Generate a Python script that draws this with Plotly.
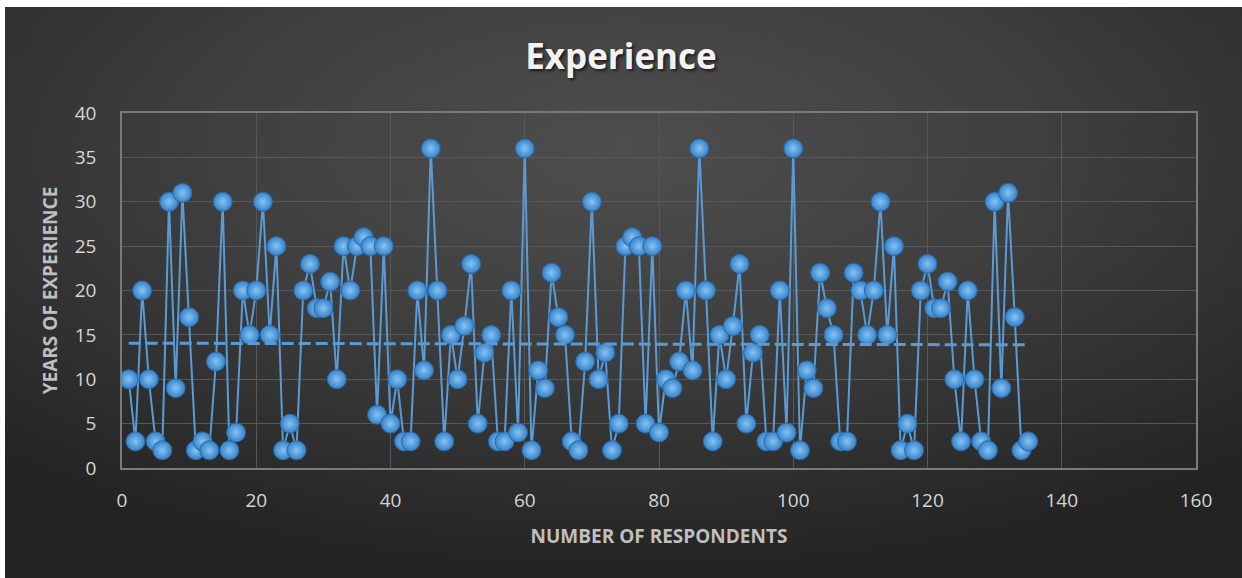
import base64
import numpy as np
import plotly.graph_objects as go

# Years of experience reported by each respondent (respondent 1..135)
experience = [
    10, 3, 20, 10, 3, 2, 30, 9, 31, 17,
    2, 3, 2, 12, 30, 2, 4, 20, 15, 20,
    30, 15, 25, 2, 5, 2, 20, 23, 18, 18,
    21, 10, 25, 20, 25, 26, 25, 6, 25, 5,
    10, 3, 3, 20, 11, 36, 20, 3, 15, 10,
    16, 23, 5, 13, 15, 3, 3, 20, 4, 36,
    2, 11, 9, 22, 17, 15, 3, 2, 12, 30,
    10, 13, 2, 5, 25, 26, 25, 5, 25, 4,
    10, 9, 12, 20, 11, 36, 20, 3, 15, 10,
    16, 23, 5, 13, 15, 3, 3, 20, 4, 36,
    2, 11, 9, 22, 18, 15, 3, 3, 22, 20,
    15, 20, 30, 15, 25, 2, 5, 2, 20, 23,
    18, 18, 21, 10, 3, 20, 10, 3, 2, 30,
    9, 31, 17, 2, 3,
]
respondents = list(range(1, len(experience) + 1))

x_ticks = [0, 20, 40, 60, 80, 100, 120, 140, 160]
y_ticks = [0, 5, 10, 15, 20, 25, 30, 35, 40]

# Linear trend over the respondents
slope, intercept = np.polyfit(respondents, experience, 1)
trend_x = [respondents[0], respondents[-1]]
trend_y = [slope * v + intercept for v in trend_x]

W, H = 1242, 578
L, R, T, B = 122, 46, 113, 110

# Dark radial backdrop for the chart area
svg = f"""<svg xmlns="http://www.w3.org/2000/svg" width="1237" height="571" viewBox="0 0 1237 571" preserveAspectRatio="none">
<defs><radialGradient id="g" cx="50%" cy="25%" r="75%" fx="50%" fy="25%">
<stop offset="0%" stop-color="#4e4e4e"/>
<stop offset="45%" stop-color="#3f3f3f"/>
<stop offset="100%" stop-color="#232323"/>
</radialGradient></defs>
<rect width="1237" height="571" fill="url(#g)"/></svg>"""
bg_src = "data:image/svg+xml;base64," + base64.b64encode(svg.encode()).decode()

pw, ph = W - L - R, H - T - B

fig = go.Figure()

fig.add_trace(go.Scatter(
    x=respondents, y=experience,
    mode="lines+markers",
    line=dict(color="#5b9bd5", width=2),
    marker=dict(
        size=19, color="#3682cb",
        gradient=dict(type="radial", color="#86c4f2"),
        line=dict(color="#2a6aa6", width=1),
    ),
    showlegend=False,
    hoverinfo="x+y",
))

fig.add_trace(go.Scatter(
    x=trend_x, y=trend_y,
    mode="lines",
    line=dict(color="#5b9bd5", width=3, dash="12px,5px"),
    showlegend=False,
    hoverinfo="skip",
))

axis_common = dict(
    showgrid=True, gridcolor="#585858", gridwidth=1,
    showline=True, linecolor="#7a7a7a", linewidth=1.5, mirror=True,
    zeroline=False, ticks="",
    tickfont=dict(family="Open Sans", size=19, color="#d6d6d6"),
)

fig.update_layout(
    width=W, height=H,
    margin=dict(l=L, r=R, t=T, b=B),
    paper_bgcolor="white",
    plot_bgcolor="rgba(0,0,0,0)",
    title=dict(
        text="<b>Experience</b>",
        x=0.5, xanchor="center",
        y=1 - 57 / H, yanchor="middle",
        xref="container", yref="container",
        font=dict(family="Open Sans", size=35, color="#f2f2f2",
                  shadow="2px 2px 3px rgba(0,0,0,0.6)"),
    ),
    xaxis=dict(
        range=[0, 160], tickvals=x_ticks,
        ticklabelstandoff=14,
        title=dict(text="<b>NUMBER OF RESPONDENTS</b>", standoff=18,
                   font=dict(family="Open Sans", size=19, color="#bfbfbf")),
        **axis_common,
    ),
    yaxis=dict(
        range=[0, 40], tickvals=y_ticks,
        ticklabelstandoff=20,
        title=dict(text="<b>YEARS OF EXPERIENCE</b>", standoff=12,
                   font=dict(family="Open Sans", size=19, color="#bfbfbf")),
        **axis_common,
    ),
    images=[dict(
        source=bg_src, xref="paper", yref="paper",
        x=(5 - L) / pw, y=(H - B - 7) / ph,
        sizex=(W - 5) / pw, sizey=(H - 7) / ph,
        xanchor="left", yanchor="top",
        sizing="stretch", layer="below",
    )],
)

fig.write_html("out.html")
